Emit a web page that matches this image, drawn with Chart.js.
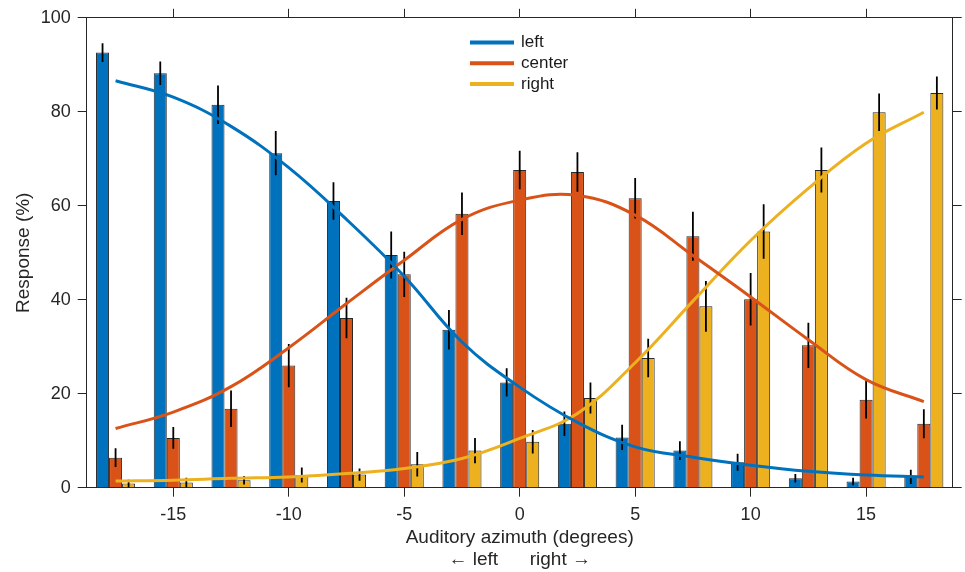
<!DOCTYPE html>
<html>
<head>
<meta charset="utf-8">
<script src="https://cdn.jsdelivr.net/npm/chart.js@4.4.1/dist/chart.umd.min.js"></script>
<style>
  html, body { margin: 0; padding: 0; background: #fff; }
  #wrap { width: 965px; height: 572px; }
</style>
</head>
<body>
<div id="wrap"><canvas id="chart" width="965" height="572"></canvas></div>
<script>
// stimulus azimuth of every bar group (degrees)
const azimuth = [-17.5, -15, -12.5, -10, -7.5, -5, -2.5, 0, 2.5, 5, 7.5, 10, 12.5, 15, 17.5];

// mean responses (%)
const leftResp   = [92.6, 88.2, 81.5, 71.2, 61.0, 49.5, 33.6, 22.4, 13.6, 10.7, 7.9, 5.4, 2.0, 1.3, 2.3];
const centerResp = [6.4, 10.6, 16.8, 26.0, 36.1, 45.4, 58.3, 67.6, 67.2, 61.6, 53.5, 40.1, 30.3, 18.7, 13.6];
const rightResp  = [0.9, 1.1, 1.6, 2.7, 2.8, 5.0, 7.9, 9.8, 19.1, 27.6, 38.6, 54.5, 67.6, 79.9, 84.0];

// error bar half lengths (%)
const leftErr   = [2.0, 2.5, 4.1, 4.7, 4.0, 5.0, 4.2, 3.0, 2.6, 2.7, 2.0, 1.8, 0.9, 0.8, 1.5];
const centerErr = [2.0, 2.3, 3.9, 4.6, 4.3, 4.8, 4.5, 4.1, 4.2, 4.3, 5.2, 5.6, 4.8, 4.0, 3.1];
const rightErr  = [0.8, 1.0, 0.9, 1.6, 1.3, 2.6, 2.7, 2.5, 3.3, 4.1, 5.4, 5.8, 4.8, 4.0, 3.5];

const leftFit   = [86.6, 83.1, 76.9, 68.1, 57.1, 45.0, 31.0, 21.4, 13.9, 8.7, 6.5, 4.8, 3.5, 2.7, 2.3];
const centerFit = [12.6, 16.1, 21.5, 29.8, 39.2, 48.4, 57.1, 61.2, 62.2, 58.0, 49.4, 40.6, 31.5, 23.0, 18.3];
const rightFit  = [1.4, 1.6, 2.0, 2.3, 3.0, 4.1, 6.2, 10.5, 15.8, 26.6, 39.7, 52.6, 63.7, 73.3, 79.9];

const xTicks = [-15, -10, -5, 0, 5, 10, 15];
const yTicks = [0, 20, 40, 60, 80, 100];
const seriesNames = ['left', 'center', 'right'];

const colors = ['#0072BD', '#D95319', '#EDB120'];
const axisColor = '#262626';

Chart.defaults.font.family = '"Liberation Sans", Arial, Helvetica, sans-serif';
Chart.defaults.color = axisColor;

const pts = ys => azimuth.map((x, i) => ({ x: x, y: ys[i] }));

// error bars, drawn right after each bar dataset so the curves stay on top
const errorBars = {
    id: 'errorBars',
    afterDatasetDraw(chart, args) {
        const ds = chart.data.datasets[args.index];
        if (!ds.err) return;
        const ctx = chart.ctx;
        const ys = chart.scales.y;
        const a = chart.chartArea;
        ctx.save();
        ctx.beginPath();
        ctx.rect(a.left, a.top, a.right - a.left, a.bottom - a.top);
        ctx.clip();
        ctx.strokeStyle = '#000';
        ctx.lineWidth = 1.8;
        ctx.beginPath();
        args.meta.data.forEach((bar, i) => {
            const v = ds.data[i].y, e = ds.err[i];
            ctx.moveTo(bar.x, ys.getPixelForValue(v + e));
            ctx.lineTo(bar.x, ys.getPixelForValue(v - e));
        });
        ctx.stroke();
        ctx.restore();
    }
};

// legend inside the axes, like the original figure
const innerLegend = {
    id: 'innerLegend',
    afterDraw(chart) {
        const ctx = chart.ctx;
        const curves = chart.data.datasets.filter(d => d.type === 'line');
        ctx.save();
        ctx.font = '17px "Liberation Sans", Arial, sans-serif';
        ctx.textBaseline = 'middle';
        ctx.textAlign = 'left';
        curves.forEach((d, i) => {
            const yy = 42.5 + i * 20.8;
            ctx.strokeStyle = d.borderColor;
            ctx.lineWidth = 4;
            ctx.beginPath();
            ctx.moveTo(470, yy);
            ctx.lineTo(514, yy);
            ctx.stroke();
            ctx.fillStyle = '#1a1a1a';
            ctx.fillText(d.label, 521, yy);
        });
        ctx.restore();
    }
};

function fixedTicks(values) {
    return s => { s.ticks = values.map(v => ({ value: v })); };
}

const gridOpts = { drawOnChartArea: false, color: axisColor, lineWidth: 1, tickLength: 9, offset: false };
const borderOpts = { display: true, color: axisColor, width: 1 };

const barSets = [leftResp, centerResp, rightResp].map((vals, k) => ({
    type: 'bar',
    label: seriesNames[k] + ' data',
    data: pts(vals),
    err: [leftErr, centerErr, rightErr][k],
    backgroundColor: colors[k],
    borderColor: '#2a2a2a',
    borderWidth: 1,
    inflateAmount: 0,
    categoryPercentage: 0.677,
    barPercentage: 1.0,
    order: 1
}));

const lineSets = [leftFit, centerFit, rightFit].map((vals, k) => ({
    type: 'line',
    label: seriesNames[k],
    data: pts(vals),
    borderColor: colors[k],
    borderWidth: 3,
    pointRadius: 0,
    fill: false,
    tension: 0.4,
    order: 0
}));

new Chart(document.getElementById('chart'), {
    type: 'bar',
    data: { datasets: barSets.concat(lineSets) },
    options: {
        responsive: false,
        animation: false,
        devicePixelRatio: 1,
        layout: { padding: 0 },
        plugins: { legend: { display: false }, tooltip: { enabled: false } },
        scales: {
            x: {
                type: 'linear', position: 'bottom', min: -18.75, max: 18.75, offset: false,
                afterBuildTicks: fixedTicks(xTicks),
                grid: gridOpts, border: borderOpts,
                ticks: { color: axisColor, font: { size: 18 }, padding: 8, maxRotation: 0, autoSkip: false },
                title: {
                    display: true,
                    text: ['Auditory azimuth (degrees)', '\u2190 left      right \u2192'],
                    color: axisColor,
                    font: { size: 19, lineHeight: 1.15 },
                    padding: { top: 0, bottom: 1 }
                },
                afterFit: s => { s.height = 84.3; }
            },
            x2: {
                type: 'linear', position: 'top', min: -18.75, max: 18.75, offset: false,
                afterBuildTicks: fixedTicks(xTicks),
                grid: gridOpts, border: borderOpts,
                ticks: { display: false },
                afterFit: s => { s.height = 16; }
            },
            y: {
                type: 'linear', position: 'left', min: 0, max: 100,
                afterBuildTicks: fixedTicks(yTicks),
                grid: gridOpts, border: borderOpts,
                ticks: { color: axisColor, font: { size: 18 }, padding: 7 },
                title: {
                    display: true, text: 'Response (%)', color: axisColor,
                    font: { size: 19, lineHeight: 1.2 },
                    padding: { top: 12.5, bottom: 0 }
                },
                afterFit: s => { s.width = 86.7; }
            },
            y2: {
                type: 'linear', position: 'right', min: 0, max: 100,
                afterBuildTicks: fixedTicks(yTicks),
                grid: gridOpts, border: borderOpts,
                ticks: { display: false },
                afterFit: s => { s.width = 12.3; }
            }
        }
    },
    plugins: [errorBars, innerLegend]
});
</script>
</body>
</html>
